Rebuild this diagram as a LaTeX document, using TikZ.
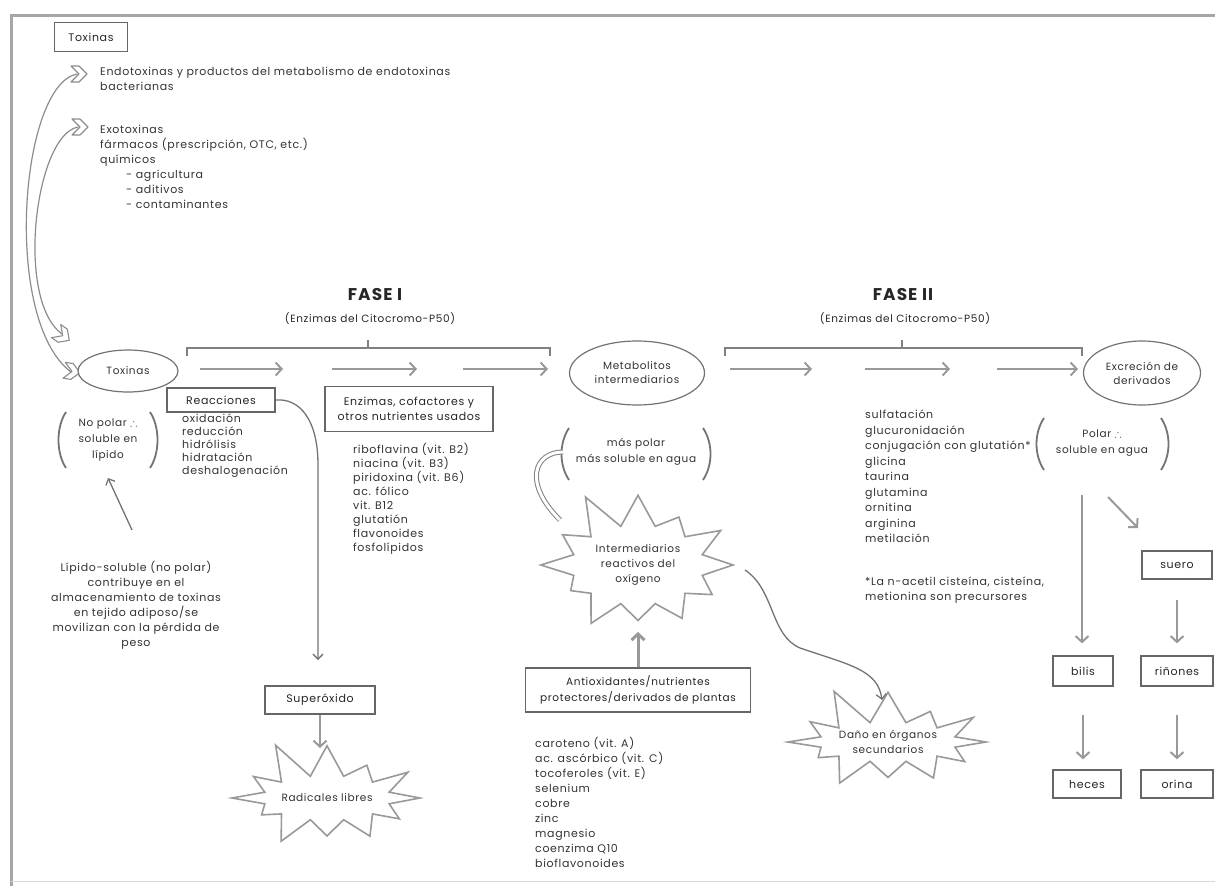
\documentclass[tikz,border=0pt]{standalone}
\usepackage{amsmath,amssymb}
\usepackage{fontspec}
\setmainfont{Poppins}[LetterSpace=6]
\usetikzlibrary{shapes.geometric,shapes.symbols,arrows.meta}

\tikzstyle{boxlbl} = [draw=black!60, line width=1.3pt, fill=white, rectangle,
    inner sep=3pt, text=black!85, align=center, font=\fontsize{11}{15}\selectfont]
\tikzstyle{oval} = [draw=black!55, line width=1.2pt, fill=white, ellipse,
    inner sep=0pt, text=black!80, align=center, font=\fontsize{10.5}{14}\selectfont]
\tikzstyle{boom} = [draw=black!40, line width=1.6pt, fill=white, starburst,
    starburst points=12, starburst point height=40pt, random starburst=11,
    inner sep=0pt, text=black!80, align=center, font=\fontsize{10.5}{15}\selectfont]
\tikzstyle{listtxt} = [anchor=north west, inner sep=0pt, align=left,
    text=black!80, font=\fontsize{11}{15}\selectfont]
\tikzstyle{midtxt} = [inner sep=0pt, align=center, text=black!80,
    font=\fontsize{10.5}{16}\selectfont]
\tikzstyle{fasetitle} = [font=\fontsize{17}{20}\selectfont\bfseries, text=black!85]
\tikzstyle{fasesub} = [font=\fontsize{10.5}{13}\selectfont, text=black!85]
\tikzstyle{flow} = [draw=black!40, line width=2pt,
    -{Straight Barb[length=6pt,width=13pt]}]
\tikzstyle{thinflow} = [draw=black!55, line width=1.3pt,
    -{Straight Barb[length=5pt,width=10pt]}]
\tikzstyle{brak} = [draw=black!50, line width=1.5pt]
\tikzstyle{paren} = [draw=black!55, line width=1.8pt]
\tikzstyle{chev} = [draw=black!45, line width=1.1pt, fill=white, line join=round]
\tikzstyle{link} = [draw=black!45, line width=1.2pt]

\newcommand{\chevron}[2]{\draw[chev, shift={#1}, rotate=#2]
    (-12,-8) -- (-4,-8) -- (4,0) -- (-4,8) -- (-12,8) -- (-4,0) -- cycle;}
% left x, right x, top y, bottom y
\newcommand{\parenpair}[4]{%
  \draw[paren] (#1+6,#3) .. controls (#1-4,#3+15) and (#1-4,#4-15) .. (#1+6,#4);
  \draw[paren] (#2-6,#3) .. controls (#2+4,#3+15) and (#2+4,#4-15) .. (#2-6,#4);}

\begin{document}
\begin{tikzpicture}[x=1pt,y=-1pt]
\useasboundingbox (0,0) rectangle (1215,886);
\draw[black!35, line width=3pt] (11,886) -- (11,15) -- (1215,15);
\draw[black!15, line width=1pt] (11,881) -- (1215,881);

% origen de las toxinas
\node[boxlbl, minimum width=73pt, minimum height=29pt] (toxbox) at (91,37) {Toxinas};
\node[listtxt] (endo) at (100,67) {Endotoxinas y productos del metabolismo de endotoxinas\\bacterianas};
\node[listtxt] (exo) at (100,125) {Exotoxinas\\fármacos (prescripción, OTC, etc.)\\químicos\\\hspace*{26pt}- agricultura\\\hspace*{26pt}- aditivos\\\hspace*{26pt}- contaminantes};

\coordinate (c1) at (77,74);
\coordinate (c2) at (78,127);
\coordinate (c3) at (62,334);
\coordinate (c4) at (71,372);
\draw[link] (c1) .. controls (20,85) and (2,320) .. (c4);
\draw[link] (c2) .. controls (35,135) and (15,300) .. (c3);
\chevron{(83,74)}{0}
\chevron{(84,127)}{0}
\chevron{(66,338)}{-35}
\chevron{(76,372)}{-8}

% fase I
\node[fasetitle] (fase1) at (375,295) {FASE I};
\node[fasesub] (fase1sub) at (370,319) {(Enzimas del Citocromo-P50)};
\draw[brak] (187,356) -- (187,348) -- (550,348) -- (550,356);
\draw[brak] (368,348) -- (368,340);

\node[oval, minimum width=100pt, minimum height=42pt] (tox) at (128,371) {Toxinas};
\node[oval, minimum width=135pt, minimum height=64pt] (meta) at (637,373) {Metabolitos\\intermediarios};
\node[oval, minimum width=117pt, minimum height=64pt] (excr) at (1142,373) {Excreción de\\derivados};

\foreach \a/\b [count=\i] in {200/283, 332/417, 463/548, 730/812, 865/950, 997/1078} {
  \coordinate (s\i) at (\a,369);
  \coordinate (e\i) at (\b,369);
  \draw[flow] (s\i) -- (e\i);
}

% fase II
\node[fasetitle] (fase2) at (903,295) {FASE II};
\node[fasesub] (fase2sub) at (905,319) {(Enzimas del Citocromo-P50)};
\draw[brak] (725,356) -- (725,348) -- (1082,348) -- (1082,356);
\draw[brak] (902,348) -- (902,340);

% reacciones y cofactores
\node[boxlbl, minimum width=108pt, minimum height=24pt] (reac) at (221,400) {Reacciones};
\node[listtxt, font=\fontsize{11}{13}\selectfont] (reaclist) at (182,414) {oxidación\\reducción\\hidrólisis\\hidratación\\deshalogenación};
\node[boxlbl, minimum width=168pt, minimum height=45pt] (enz) at (409,409) {Enzimas, cofactores y\\otros nutrientes usados};
\node[listtxt, font=\fontsize{11}{14}\selectfont] (enzlist) at (353,443) {riboflavina (vit. B2)\\niacina (vit. B3)\\piridoxina (vit. B6)\\ac. fólico\\vit. B12\\glutatión\\flavonoides\\fosfolípidos};

% no polar
\node[midtxt] (nopolar) at (108,440) {No polar $\therefore$\\soluble en\\lípido};
\parenpair{60}{156}{412}{468}
\node[midtxt, font=\fontsize{11}{15}\selectfont, anchor=north] (lipido) at (136,561) {Lípido-soluble (no polar)\\contribuye en el\\almacenamiento de toxinas\\en tejido adiposo/se\\movilizan con la pérdida de\\peso};
\coordinate (lipfoot) at (132,530);
\coordinate (lipup) at (108,478);
\draw[thinflow] (lipfoot) -- (lipup);

% superoxido
\coordinate (supin) at (318,660);
\draw[thinflow] (reac.east) .. controls (300,398) and (318,420) .. (318,465) -- (supin);
\node[boxlbl, minimum width=110pt, minimum height=28pt] (sup) at (320,700) {Superóxido};
\node[boom, minimum width=185pt, minimum height=125pt] (rad) at (327,798) {Radicales libres};
\coordinate (radin) at (320,748);
\draw[flow] (sup.south) -- (radin);

% mas polar
\node[midtxt] (maspolar) at (636,452) {más polar\\más soluble en agua};
\parenpair{563}{709}{428}{480}
\draw[black!50, line width=1pt, double=white, double distance=3pt] (563,452) .. controls (535,452) and (522,482) .. (560,520);
\node[boom, minimum width=213pt, minimum height=160pt] (inter) at (638,565) {Intermediarios\\reactivos del\\oxígeno};
\node[boxlbl, minimum width=225pt, minimum height=44pt, font=\fontsize{10.5}{16}\selectfont] (antiox) at (638,690) {Antioxidantes/nutrientes\\protectores/derivados de plantas};
\coordinate (interin) at (638,632);
\draw[flow, line width=3pt] (antiox.north) -- (interin);
\node[listtxt] (antilist) at (535,737) {caroteno (vit. A)\\ac. ascórbico (vit. C)\\tocoferoles (vit. E)\\selenium\\cobre\\zinc\\magnesio\\coenzima Q10\\bioflavonoides};

% dano
\node[boom, minimum width=180pt, minimum height=120pt] (dano) at (888,742) {Daño en órganos\\secundarios};
\coordinate (interout) at (745,570);
\coordinate (danoin) at (882,700);
\draw[thinflow] (interout) .. controls (775,590) and (770,635) .. (800,648) .. controls (850,665) and (878,670) .. (danoin);

% fase II conjugacion
\node[listtxt, font=\fontsize{11}{15.5}\selectfont] (conjlist) at (865,410) {sulfatación\\glucuronidación\\conjugación con glutatión*\\glicina\\taurina\\glutamina\\ornitina\\arginina\\metilación};
\node[midtxt] (polar) at (1102,443) {Polar $\therefore$\\soluble en agua};
\parenpair{1038}{1167}{418}{470}
\node[listtxt] (nota) at (865,577) {*La n-acetil cisteína, cisteína,\\metionina son precursores};

% excrecion
\node[boxlbl, minimum width=70pt, minimum height=28pt] (suero) at (1177,565) {suero};
\node[boxlbl, minimum width=60pt, minimum height=30pt] (bilis) at (1083,671) {bilis};
\node[boxlbl, minimum width=72pt, minimum height=30pt] (rin) at (1177,671) {riñones};
\node[boxlbl, minimum width=68pt, minimum height=28pt] (heces) at (1087,784) {heces};
\node[boxlbl, minimum width=72pt, minimum height=28pt] (orina) at (1177,784) {orina};
\coordinate (vtop) at (1082,495);
\coordinate (dtop) at (1108,497);
\coordinate (dend) at (1138,528);
\draw[flow, shorten >=12pt] (vtop) -- (vtop |- bilis.north);
\draw[flow] (dtop) -- (dend);
\draw[flow, shorten <=20pt, shorten >=12pt] (suero.south) -- (rin.north);
\draw[flow, shorten <=28pt, shorten >=10pt] (bilis.south) -- (bilis.south |- heces.north);
\draw[flow, shorten <=28pt, shorten >=10pt] (rin.south) -- (orina.north);
\end{tikzpicture}
\end{document}
